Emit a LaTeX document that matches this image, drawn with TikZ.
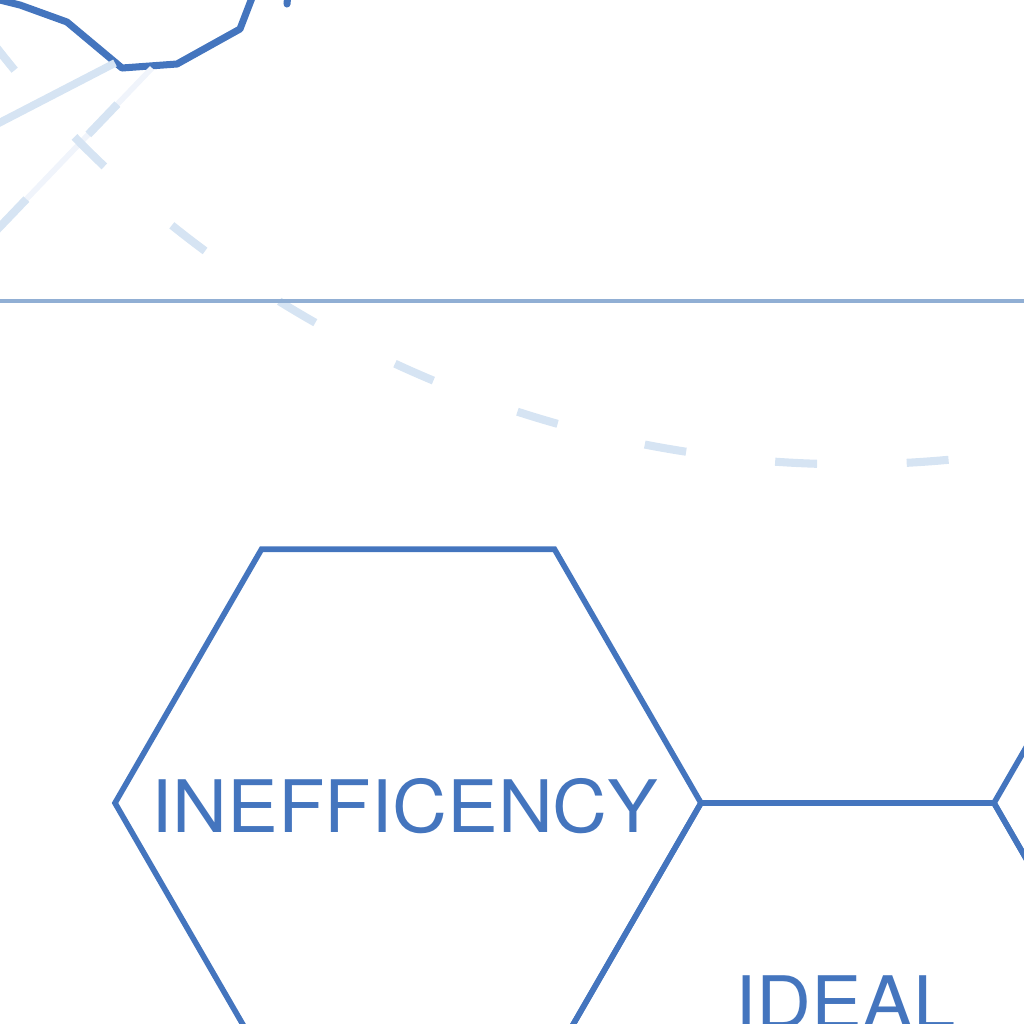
\documentclass[tikz,border=0pt]{standalone}
\usepackage{fontspec}
\usetikzlibrary{positioning, shapes.geometric, calc}
\newfontfamily\sketchfont[FakeStretch=1.05]{TeX Gyre Heros}
\definecolor{inkblue}{RGB}{68,117,190}
\definecolor{paleblue}{RGB}{214,228,243}
\definecolor{faintblue}{RGB}{240,244,251}
\definecolor{ruleblue}{RGB}{145,175,212}

\begin{document}
\begin{tikzpicture}[
        hexcell/.style={regular polygon, regular polygon sides=6, minimum size=5.86cm,
          draw=inkblue, line width=1.6pt, inner sep=0pt},
        hextext/.style={text=inkblue, font=\sketchfont\fontsize{20.6}{24}\selectfont, inner sep=0pt},
        trace/.style={draw=inkblue, line width=2pt, line join=round},
        paleline/.style={draw=paleblue, line width=2.2pt},
        palearc/.style={draw=paleblue, line width=2.3pt, dash pattern=on 0.42cm off 0.896cm}
      ]
        \useasboundingbox (0,0) rectangle (10.24,-10.24);

        % honeycomb
        \node[hexcell] (hexIneff) at (4.08,-8.03) {};
        \node[hexcell] (hexIdeal) at (8.475,-10.567) {};
        \node[hexcell] (hexRight) at (12.87,-8.03) {};
        \node[hextext] (ineffTxt) at ([xshift=-0.03cm, yshift=-0.03cm]hexIneff.center) {INEFFICENCY};
        \node[hextext] (idealTxt) at ([xshift=-0.02cm, yshift=0.55cm]hexIdeal.center) {IDEAL};

        % faded strokes at the top
        \coordinate (t0) at (-0.3,0.075);
        \coordinate (t1) at (0.2,-0.05);
        \coordinate (t2) at (0.67,-0.22);
        \coordinate (t3) at (1.22,-0.68);
        \coordinate (t4) at (1.77,-0.64);
        \coordinate (t5) at (2.40,-0.29);
        \coordinate (t6) at (2.55,0.1);
        \draw[trace] (t0) -- (t1) -- (t2) -- (t3) -- (t4) -- (t5) -- (t6);
        \coordinate (d0) at (2.87,-0.04);
        \coordinate (d1) at (2.9,0.3);
        \draw[trace, line cap=round] (d0) -- (d1);

        \coordinate (s0) at (-0.3,-1.38);
        \coordinate (s1) at (1.15,-0.63);
        \draw[paleline] (s0) -- (s1);
        \coordinate (f0) at (1.52,-0.68);
        \coordinate (f1) at (-0.3,-2.58);
        \draw[draw=faintblue, line width=1.6pt] (f0) -- (f1);
        \draw[palearc, dash phase=0.816cm] (f0) -- (f1);

        \draw[palearc, dash phase=0.688cm] (8.5,6.18) ++(200:10.82) arc[start angle=200, end angle=290, radius=10.82];

        % rule
        \coordinate (r0) at (0,-3.01);
        \coordinate (r1) at (10.24,-3.01);
        \draw[draw=ruleblue, line width=0.9pt] (r0) -- (r1);
      \end{tikzpicture}
\end{document}
